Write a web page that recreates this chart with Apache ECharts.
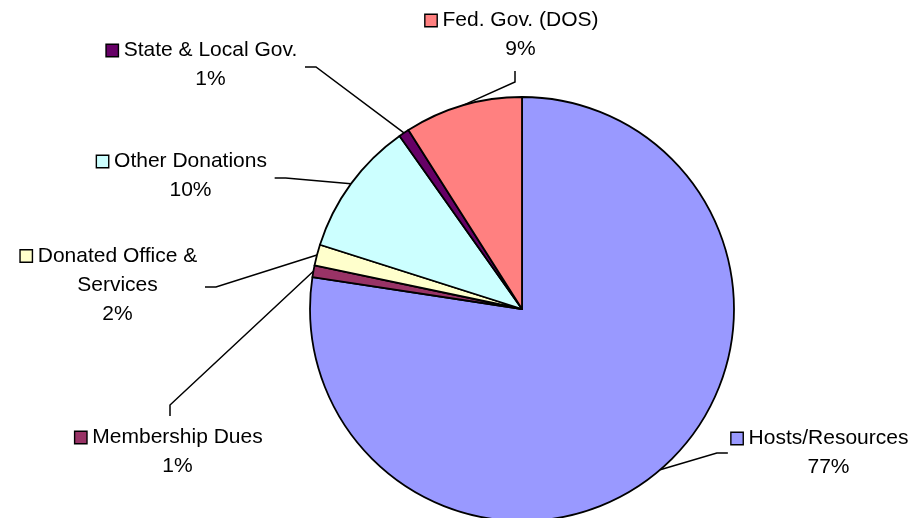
<!DOCTYPE html>
<html><head><meta charset="utf-8">
<script src="https://cdn.jsdelivr.net/npm/echarts@6/dist/echarts.min.js"></script>
<style>html,body{margin:0;padding:0;background:#fff}#c{width:914px;height:518px}</style>
</head><body><div id="c"></div>
<script>
const categories = ['Hosts/Resources', 'Membership Dues', 'Donated Office &\nServices', 'Other Donations', 'State & Local Gov.', 'Fed. Gov. (DOS)'];
const values = [77.4, 0.9, 1.6, 10.3, 0.8, 9.0];
const colors = ['#9999FF', '#993366', '#FFFFCC', '#CCFFFF', '#660066', '#FF8080'];
// label block centres and leader attachment side (layout only)
const labelPos = [[820, 453], [169, 452], [109, 285], [182, 176], [202, 65], [512, 35]];
const labelSide = ['left', 'top', 'right', 'right', 'right', 'bottom'];

const FONT = 'Liberation Sans, Arial, sans-serif';
const chart = echarts.init(document.getElementById('c'), null, {renderer: 'canvas'});
const total = values.reduce((a, b) => a + b, 0);
const data = values.map((v, i) => ({
  value: v,
  name: categories[i],
  itemStyle: {color: colors[i]},
  label: {
    rich: {
      k: {width: 11, height: 11, backgroundColor: colors[i], borderColor: '#000', borderWidth: 1.4},
      g: {width: 6, height: 11},
      sp: {width: 17, height: 11},
      t: {fontSize: 21, color: '#000', fontFamily: FONT, lineHeight: 29}
    }
  }
}));
chart.setOption({
  animation: false,
  series: [{
    type: 'pie',
    center: [522, 309],
    radius: 212,
    startAngle: 90,
    clockwise: true,
    avoidLabelOverlap: false,
    data: data,
    itemStyle: {borderColor: '#000', borderWidth: 1.8},
    label: {
      show: true,
      position: 'outside',
      align: 'center',
      fontSize: 21,
      lineHeight: 29,
      color: '#000',
      fontFamily: FONT,
      formatter: function (p) {
        const lines = p.name.split('\n');
        const pct = Math.round(p.value / total * 100) + '%';
        let s = '{k|}{g|}{t|' + lines[0] + '}';
        for (let j = 1; j < lines.length; j++) s += '\n{sp|}{t|' + lines[j] + '}';
        s += '\n{sp|}{t|' + pct + '}';
        return s;
      }
    },
    labelLine: {show: true, length: 20, length2: 10, lineStyle: {color: '#000', width: 1.5}},
    labelLayout: function (params) {
      const i = params.dataIndex;
      const p = labelPos[i];
      const w = params.labelRect.width, h = params.labelRect.height;
      const start = params.labelLinePoints ? params.labelLinePoints[0] : null;
      const res = {x: p[0], y: p[1], align: 'center', verticalAlign: 'middle'};
      if (start) {
        const side = labelSide[i];
        const gap = 7, seg = 11;
        let end, mid;
        if (side === 'left') { end = [p[0] - w / 2 - gap + 4, p[1]]; mid = [end[0] - seg, end[1]]; }
        else if (side === 'right') { end = [p[0] + w / 2 + gap, p[1] + 2]; mid = [end[0] + seg, end[1]]; }
        else if (side === 'top') { end = [p[0] + 1, p[1] - h / 2 - gap]; mid = [end[0], end[1] - seg]; }
        else { end = [p[0] + 3, p[1] + h / 2 + gap]; mid = [end[0], end[1] + seg]; }
        res.labelLinePoints = [start, mid, end];
      }
      return res;
    },
    emphasis: {disabled: true}
  }]
});
</script></body></html>
